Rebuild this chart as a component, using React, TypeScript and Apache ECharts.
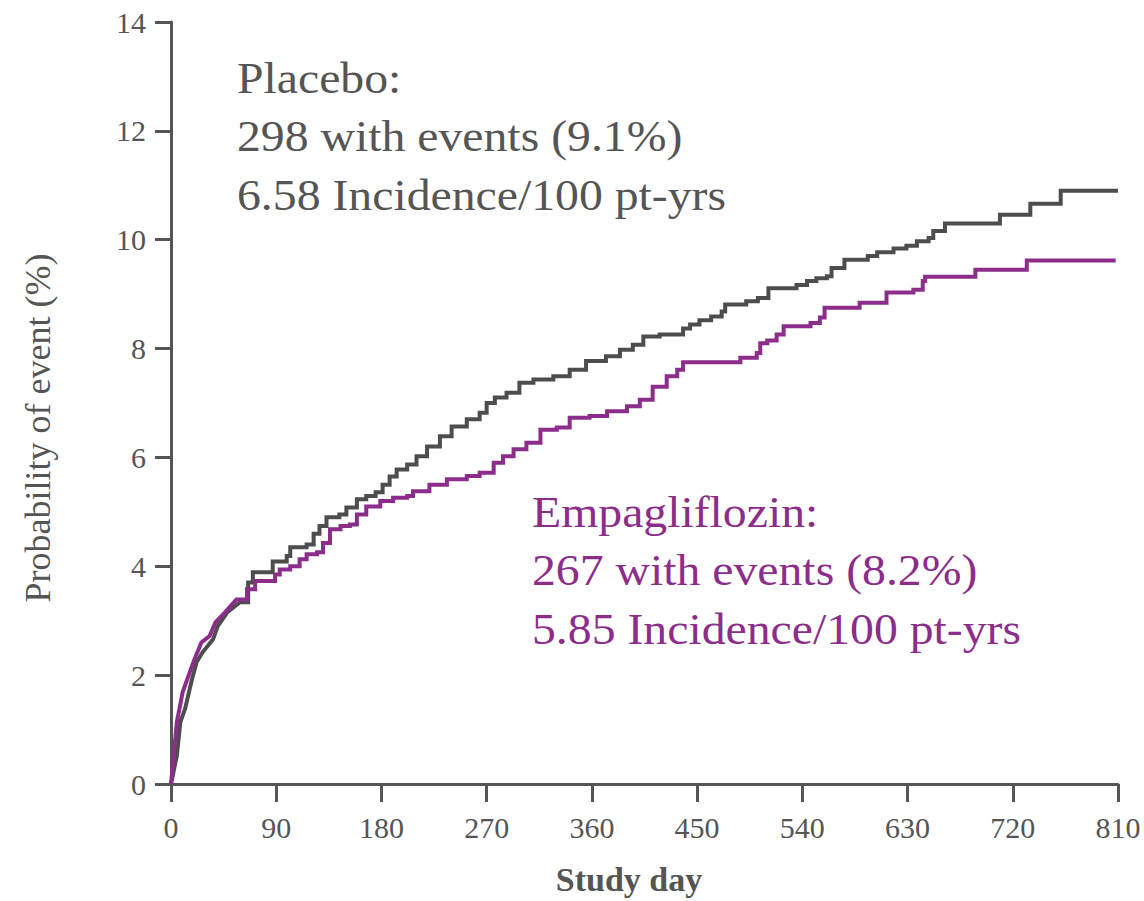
import React, { useEffect, useRef } from "react";
import * as echarts from "echarts";

const xTicks = [0, 90, 180, 270, 360, 450, 540, 630, 720, 810];
const yTicks = [0, 2, 4, 6, 8, 10, 12, 14];

const placeboDays = [0, 5, 8, 12, 18, 22, 27, 36, 40, 48, 59, 66, 70, 87, 99, 102, 116, 122, 127, 133, 144, 150, 159, 167, 175, 181, 187, 193, 202, 210, 219, 230, 240, 253, 264, 270, 277, 287, 298, 310, 327, 341, 355, 372, 384, 395, 404, 418, 438, 444, 452, 462, 471, 474, 492, 502, 511, 535, 544, 552, 561, 565, 576, 596, 604, 618, 629, 638, 648, 652, 662, 709, 735, 761, 810];
const placeboProb = [0, 0.52, 1.14, 1.38, 1.93, 2.24, 2.42, 2.66, 2.9, 3.15, 3.34, 3.7, 3.89, 4.09, 4.19, 4.35, 4.4, 4.6, 4.74, 4.9, 4.95, 5.08, 5.23, 5.29, 5.36, 5.5, 5.65, 5.78, 5.87, 6.02, 6.2, 6.39, 6.57, 6.7, 6.82, 7.0, 7.1, 7.19, 7.37, 7.43, 7.49, 7.61, 7.77, 7.86, 7.98, 8.07, 8.22, 8.26, 8.37, 8.44, 8.52, 8.59, 8.68, 8.81, 8.87, 8.93, 9.11, 9.17, 9.24, 9.29, 9.33, 9.48, 9.63, 9.7, 9.77, 9.84, 9.89, 9.97, 10.03, 10.16, 10.3, 10.46, 10.66, 10.9, 10.9];

const empaDays = [0, 5, 10, 16, 20, 26, 33, 38, 46, 56, 65, 72, 89, 93, 102, 110, 116, 125, 130, 136, 145, 153, 159, 167, 179, 190, 202, 207, 221, 236, 253, 264, 276, 284, 293, 304, 316, 330, 341, 358, 373, 390, 401, 412, 424, 433, 438, 487, 501, 504, 510, 518, 524, 547, 555, 559, 589, 612, 635, 643, 645, 688, 732, 808];
const empaProb = [0, 1.14, 1.69, 2.05, 2.29, 2.6, 2.72, 2.97, 3.15, 3.39, 3.58, 3.73, 3.85, 3.94, 4.0, 4.13, 4.22, 4.26, 4.43, 4.68, 4.74, 4.77, 4.95, 5.1, 5.2, 5.26, 5.29, 5.38, 5.5, 5.6, 5.66, 5.72, 5.9, 6.02, 6.15, 6.27, 6.51, 6.55, 6.73, 6.76, 6.85, 6.94, 7.06, 7.3, 7.49, 7.61, 7.75, 7.83, 7.92, 8.1, 8.15, 8.26, 8.41, 8.47, 8.57, 8.75, 8.84, 9.03, 9.08, 9.24, 9.32, 9.45, 9.62, 9.62];

const placeboText = ["Placebo:", "298 with events (9.1%)", "6.58 Incidence/100 pt-yrs"];
const empaText = ["Empagliflozin:", "267 with events (8.2%)", "5.85 Incidence/100 pt-yrs"];
const xTitle = "Study day";
const yTitle = "Probability of event (%)";

const GRAY = "#4d4d4d";
const AXIS = "#555555";
const PURPLE = "#8c2d8c";
const FONT = "'Liberation Serif', 'Times New Roman', serif";

// Steps are drawn as explicit corners after the dense early phase,
// where the many tiny steps blend into a near-continuous curve.
const STEP_FROM_DAY = 60;
function kmPath(xs: number[], ys: number[]) {
  const out: number[][] = [];
  xs.forEach((x, i) => {
    if (i > 0 && x >= STEP_FROM_DAY) out.push([x, ys[i - 1]]);
    out.push([x, ys[i]]);
  });
  return out;
}

export default function App() {
  const ref = useRef<HTMLDivElement>(null);
  useEffect(() => {
    if (!ref.current) return;
    const chart = echarts.init(ref.current, undefined, { renderer: "svg" });
    const textLines = (lines: string[], x: number, y0: number, color: string) =>
      lines.map((t, i) => ({
        type: "text",
        x,
        y: y0 + i * 58.5,
        scaleX: 1.085,
        style: {
          text: t,
          fill: color,
          font: `44px ${FONT}`,
          align: "left",
          verticalAlign: "middle",
        },
      }));
    chart.setOption({
      animation: false,
      backgroundColor: "#ffffff",
      grid: { left: 171, right: 26, top: 22, bottom: 117, containLabel: false },
      xAxis: {
        type: "value",
        min: 0,
        max: 810,
        interval: 90,
        axisLine: { show: true, lineStyle: { color: AXIS, width: 3 } },
        axisTick: { show: true, length: 18, lineStyle: { color: AXIS, width: 3 } },
        axisLabel: {
          color: AXIS,
          fontFamily: FONT,
          fontSize: 30,
          margin: 28,
          formatter: (v: number) => (xTicks.includes(v) ? String(v) : ""),
        },
        splitLine: { show: false },
      },
      yAxis: {
        type: "value",
        min: 0,
        max: 14,
        interval: 2,
        axisLine: { show: true, lineStyle: { color: AXIS, width: 3 } },
        axisTick: { show: true, length: 16, lineStyle: { color: AXIS, width: 3 } },
        axisLabel: {
          color: AXIS,
          fontFamily: FONT,
          fontSize: 30,
          margin: 25,
          formatter: (v: number) => (yTicks.includes(v) ? String(v) : ""),
        },
        splitLine: { show: false },
      },
      series: [
        {
          name: "Placebo",
          type: "line",
          data: kmPath(placeboDays, placeboProb),
          showSymbol: false,
          lineStyle: { color: GRAY, width: 4, join: "miter" },
          z: 3,
        },
        {
          name: "Empagliflozin",
          type: "line",
          data: kmPath(empaDays, empaProb),
          showSymbol: false,
          lineStyle: { color: PURPLE, width: 4, join: "miter" },
          z: 4,
        },
      ],
      graphic: [
        ...textLines(placeboText, 237, 78, "#555555"),
        ...textLines(empaText, 532, 512, PURPLE),
        {
          type: "text",
          x: 629,
          y: 879,
          style: {
            text: xTitle,
            fill: AXIS,
            font: `bold 34px ${FONT}`,
            align: "center",
            verticalAlign: "middle",
          },
        },
        {
          type: "text",
          x: 38,
          y: 428,
          rotation: Math.PI / 2,
          style: {
            text: yTitle,
            fill: AXIS,
            font: `36px ${FONT}`,
            align: "center",
            verticalAlign: "middle",
          },
        },
      ],
    });
    return () => chart.dispose();
  }, []);
  return (
    <div
      ref={ref}
      style={{ position: "fixed", left: 0, top: 0, width: 1144, height: 901, background: "#fff" }}
    />
  );
}
